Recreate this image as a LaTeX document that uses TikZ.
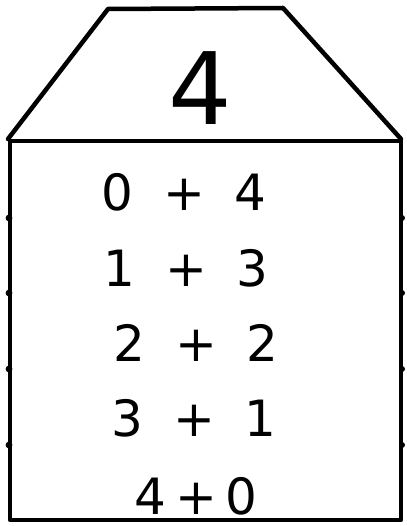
\documentclass[tikz,border=0pt]{standalone}
\usepackage{fontspec}
\setmainfont{DejaVu Sans}
\tikzset{
  wall/.style={draw=black,line width=4.5pt,line join=round,line cap=round},
  sum/.style={inner sep=0pt,outer sep=0pt,anchor=center,font=\fontsize{50}{60}\selectfont},
}
\newcommand{\gap}{\hspace{0.6em}}
\begin{document}
\begin{tikzpicture}[x=1pt,y=-1pt]
\path[use as bounding box,fill=white] (0,0) rectangle (406,526);
% roof
\draw[wall] (8,139) -- (108,9) -- (283,8) -- (401,139);
\node[sum,font=\fontsize{100}{120}\selectfont] (roof) at (200,88) {4};
% body
\draw[wall] (10,141) rectangle (401,520);
\foreach \y in {218,293,369,445} {
  \fill (9,\y) circle (3.4pt);
  \fill (402,\y) circle (3pt);
}
\node[sum] (r0) at (184,192) {0\gap+\gap4};
\node[sum] (r1) at (186,268) {1\gap+\gap3};
\node[sum] (r2) at (196,343) {2\gap+\gap2};
\node[sum] (r3) at (194,418) {3\gap+\gap1};
\node[sum] (r4) at (196,496) {4\,+\,0};
\end{tikzpicture}
\end{document}
